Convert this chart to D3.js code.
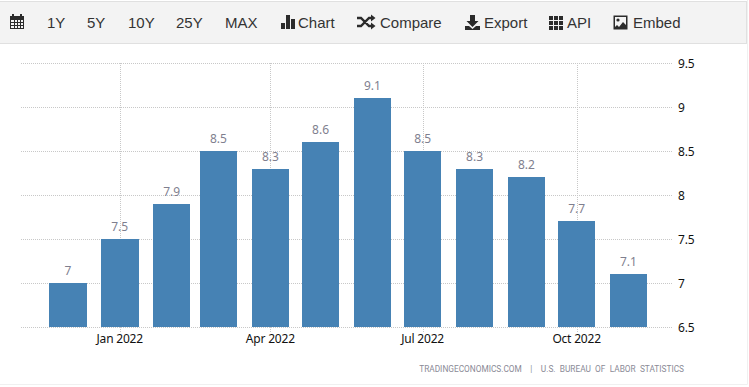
<!DOCTYPE html>
<html>
<head>
<meta charset="utf-8">
<script src="https://cdn.jsdelivr.net/npm/d3@7/dist/d3.min.js"></script>
<style>
html, body { margin: 0; padding: 0; background: #fff; overflow: hidden; }
svg { display: block; }
</style>
</head>
<body>
<script>
// monthly values, Dec 2021 - Nov 2022
var months = ["2021-12-01","2022-01-01","2022-02-01","2022-03-01","2022-04-01","2022-05-01",
              "2022-06-01","2022-07-01","2022-08-01","2022-09-01","2022-10-01","2022-11-01"];
var values = [7, 7.5, 7.9, 8.5, 8.3, 8.6, 9.1, 8.5, 8.3, 8.2, 7.7, 7.1];
var yTicks = [6.5, 7, 7.5, 8, 8.5, 9, 9.5];
var xTicks = ["2022-01-01","2022-04-01","2022-07-01","2022-10-01"];
var ranges = ["1Y","5Y","10Y","25Y","MAX"];
var rangeX = [47, 87, 128, 176, 225];
var tools = ["Chart","Compare","Export","API","Embed"];
var toolX = [298, 380, 484, 567, 633];
var source = "TRADINGECONOMICS.COM  |  U.S. BUREAU OF LABOR STATISTICS";

var parse = d3.utcParse("%Y-%m-%d");

var width = 749, height = 387;
var svg = d3.select("body").append("svg")
    .attr("width", width)
    .attr("height", height);

// outer panel edges
svg.append("path")
    .attr("d", "M747.5,0V384.5H0")
    .attr("fill", "none")
    .attr("stroke", "#f0f0f0");

// toolbar
svg.append("rect")
    .attr("x", -2).attr("y", 1.5)
    .attr("width", 748.5).attr("height", 42)
    .attr("fill", "#f3f3f3")
    .attr("stroke", "#e0e0e0");

var toolbar = svg.append("g")
    .style("font-family", "'Liberation Sans', Arial, sans-serif")
    .style("font-size", "15px")
    .attr("fill", "#333");

toolbar.selectAll(".range")
    .data(ranges)
    .enter().append("text")
    .attr("class", "range")
    .attr("x", function(d, i) { return rangeX[i]; })
    .attr("y", 28)
    .text(function(d) { return d; });

toolbar.selectAll(".tool")
    .data(tools)
    .enter().append("text")
    .attr("class", "tool")
    .attr("x", function(d, i) { return toolX[i]; })
    .attr("y", 28)
    .text(function(d) { return d; });

// toolbar icons
var icons = svg.append("g").attr("fill", "#2b2b2b");
// calendar
icons.append("path").attr("d", "M10,16h14v13h-14z M12,14h2v3h-2z M20,14h2v3h-2z");
icons.append("path").attr("fill", "#f3f3f3")
    .attr("d", "M11,20h3v2h-3z M15,20h2v2h-2z M18,20h2v2h-2z M21,20h2v2h-2z M11,23h3v2h-3z M15,23h2v2h-2z M18,23h2v2h-2z M21,23h2v2h-2z M11,26h3v2h-3z M15,26h2v2h-2z M18,26h2v2h-2z M21,26h2v2h-2z");
// bars
icons.append("path").attr("d", "M281,23h4v6h-4z M286,15h4v14h-4z M291,19h4v10h-4z");
// shuffle
icons.append("path").attr("fill", "none").attr("stroke", "#2b2b2b").attr("stroke-width", 2.4)
    .attr("d", "M357,18h4l8,8h3 M357,26h4l8,-8h3");
icons.append("path").attr("d", "M371,14.5l4.5,3.5l-4.5,3.5z M371,22.5l4.5,3.5l-4.5,3.5z");
// download
icons.append("path").attr("d", "M470,15h5v6h3.5l-6,6l-6,-6h3.5z M465,26h4l3.5,3l3.5,-3h4v4h-15z");
// grid
icons.append("path").attr("d", "M549,16h4v4h-4z M554,16h4v4h-4z M559,16h4v4h-4z M549,21h4v4h-4z M554,21h4v4h-4z M559,21h4v4h-4z M549,26h4v4h-4z M554,26h4v4h-4z M559,26h4v4h-4z");
// image
icons.append("path").attr("d", "M613.5,15.5h14v14h-14z");
icons.append("path").attr("fill", "#f3f3f3").attr("d", "M615,17h11v8l-3,-3l-4,5l-2,-2l-2,2z");
icons.append("circle").attr("cx", 618).attr("cy", 20).attr("r", 1.6);

// scales
var x = d3.scaleUtc()
    .domain([parse("2021-11-03"), parse("2022-11-27")])
    .range([21, 672]);

var y = d3.scaleLinear()
    .domain([6.5, 9.5])
    .range([327, 63]);

var barWidth = 37.6;

// grid
var grid = svg.append("g")
    .attr("fill", "none")
    .attr("stroke", "#c8c8c8")
    .attr("stroke-dasharray", "1,1");

grid.selectAll(".hgrid")
    .data(yTicks)
    .enter().append("line")
    .attr("class", "hgrid")
    .attr("x1", 21)
    .attr("x2", 672)
    .attr("y1", function(d) { return Math.round(y(d)) + 0.5; })
    .attr("y2", function(d) { return Math.round(y(d)) + 0.5; });

grid.selectAll(".vgrid")
    .data(xTicks)
    .enter().append("line")
    .attr("class", "vgrid")
    .attr("x1", function(d) { return Math.round(x(parse(d))) + 0.5; })
    .attr("x2", function(d) { return Math.round(x(parse(d))) + 0.5; })
    .attr("y1", 63)
    .attr("y2", 332);

// bars, edges snapped to whole pixels
svg.selectAll(".bar")
    .data(values)
    .enter().append("rect")
    .attr("class", "bar")
    .attr("x", function(d, i) { return Math.round(x(parse(months[i])) - barWidth / 2); })
    .attr("width", function(d, i) {
        var c = x(parse(months[i]));
        return Math.round(c + barWidth / 2) - Math.round(c - barWidth / 2);
    })
    .attr("y", function(d) { return Math.round(y(d)); })
    .attr("height", function(d) { return y(6.5) - Math.round(y(d)); })
    .attr("fill", "#4682b4");

var chartFont = "'Noto Sans', Tahoma, sans-serif";

// value labels
svg.selectAll(".label")
    .data(values)
    .enter().append("text")
    .attr("class", "label")
    .attr("x", function(d, i) { return x(parse(months[i])); })
    .attr("y", function(d) { return y(d) - 8; })
    .attr("text-anchor", "middle")
    .style("font-family", chartFont)
    .style("font-size", "12px")
    .attr("fill", "#7f7f8f")
    .text(function(d) { return d; });

// axes text
svg.selectAll(".xlabel")
    .data(xTicks)
    .enter().append("text")
    .attr("class", "xlabel")
    .attr("x", function(d) { return x(parse(d)); })
    .attr("y", 343)
    .attr("text-anchor", "middle")
    .style("font-family", chartFont)
    .style("font-size", "12px")
    .style("letter-spacing", "-0.2px")
    .attr("fill", "#111")
    .text(function(d) { return d3.utcFormat("%b %Y")(parse(d)); });

svg.selectAll(".ylabel")
    .data(yTicks)
    .enter().append("text")
    .attr("class", "ylabel")
    .attr("x", 678)
    .attr("y", function(d) { return y(d) + 5; })
    .style("font-family", chartFont)
    .style("font-size", "12px")
    .style("letter-spacing", "-0.2px")
    .attr("fill", "#111")
    .text(function(d) { return d; });

svg.append("text")
    .attr("x", 684)
    .attr("y", 372)
    .attr("text-anchor", "end")
    .style("white-space", "pre")
    .style("font-family", "Roboto, sans-serif")
    .style("font-size", "8.3px")
    .style("word-spacing", "2.2px")
    .attr("fill", "#8a8a96")
    .text(source);
</script>
</body>
</html>
